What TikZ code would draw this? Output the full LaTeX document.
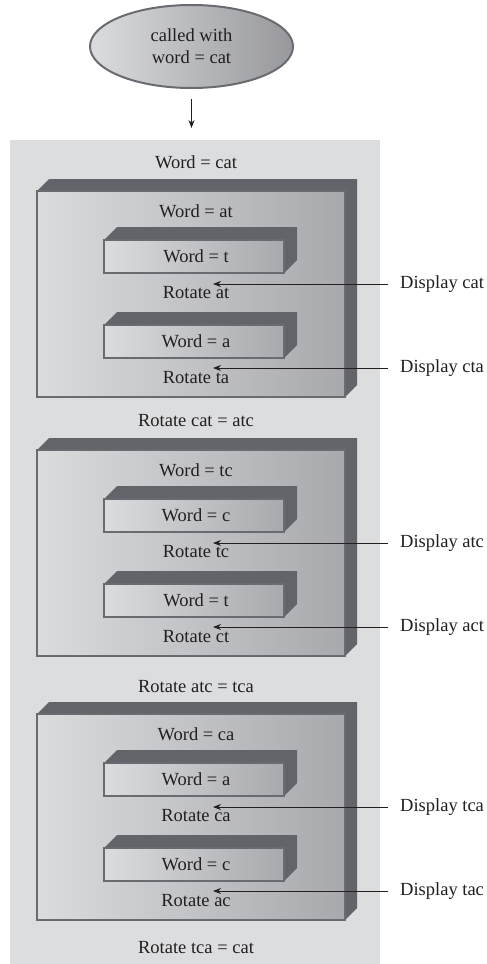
\documentclass[tikz,border=0pt]{standalone}
\usepackage{fontspec}
\setmainfont{Liberation Serif}
\usetikzlibrary{arrows.meta,shapes.geometric}
\definecolor{panelgray}{HTML}{DCDDDF}
\definecolor{bevel}{HTML}{636469}
\definecolor{faceL}{HTML}{DBDCDE}
\definecolor{faceR}{HTML}{A8A9AD}
\definecolor{edge}{HTML}{6A6B70}
\definecolor{ink}{HTML}{231F20}
\tikzset{
  txt/.style={font=\fontsize{18.5}{22}\selectfont, text=ink, inner sep=0pt},
  facebox/.style={draw=edge, line width=2.5pt, left color=faceL, right color=faceR,
                  anchor=north west, inner sep=0pt, outer sep=0pt},
  disp/.style={txt, anchor=west, inner xsep=12pt},
  conn/.style={draw=ink, line width=0.9pt, -{Stealth[length=8pt,width=6pt]}},
}
% #1 name, #2 x1, #3 y1, #4 x2, #5 y2, #6 depth
\newcommand\extbox[6]{%
  \fill[bevel] (#2,#3) -- ++(#6,-#6) -- ++({(#4)-(#2)},0) -- ++(0,{(#5)-(#3)}) -- (#4,#5) -- cycle;
  \node[facebox, minimum width={((#4)-(#2))*1pt}, minimum height={((#5)-(#3))*1pt}] (#1) at (#2,#3) {};
}
% #1 k, #2 T, #3 word, #4 inner1, #5 rot1, #6 inner2, #7 rot2, #8 disp1, #9 disp2
\newcommand\boxgroup[9]{%
  \extbox{box#1}{37}{#2}{345}{#2+206}{12}
  \node[txt] (w#1) at (196,#2+20) {#3};
  \extbox{in#1a}{104}{#2+49}{284}{#2+82}{13}
  \node[txt] (iw#1a) at (196,#2+65) {#4};
  \node[txt] (r#1a) at (196,#2+102) {#5};
  \extbox{in#1b}{104}{#2+134}{284}{#2+167}{13}
  \node[txt] (iw#1b) at (196,#2+150) {#6};
  \node[txt] (r#1b) at (196,#2+187) {#7};
  \coordinate (t#1a) at (213,#2+93);
  \coordinate (t#1b) at (213,#2+177);
  \node[disp] (d#1a) at (388,#2+93) {#8};
  \node[disp] (d#1b) at (388,#2+177) {#9};
  \draw[conn] (d#1a) -- (t#1a);
  \draw[conn] (d#1b) -- (t#1b);
}
\begin{document}
\begin{tikzpicture}[x=1pt,y=-1pt]
\useasboundingbox (0,0) rectangle (487,964);
\node[ellipse, draw=edge, line width=2pt, left color=faceL, right color=faceR!90!black,
      minimum width=203pt, minimum height=83pt, inner sep=0pt, align=center,
      font=\fontsize{18.5}{22}\selectfont, text=ink] (call) at (191.5,46.5) {called with\\word = cat};
\node[fill=panelgray, minimum width=370pt, minimum height=824pt, anchor=north west,
      inner sep=0pt, outer sep=0pt] (panel) at (10,140) {};
\draw[conn] ([yshift=-10pt]call.south) -- ([yshift=12pt]call.south |- panel.north);
\node[txt] (top) at (196,162) {Word = cat};
\boxgroup{1}{191}{Word = at}{Word = t}{Rotate at}{Word = a}{Rotate ta}{Display cat}{Display cta}
\node[txt] (m1) at (196,421) {Rotate cat = atc};
\boxgroup{2}{450}{Word = tc}{Word = c}{Rotate tc}{Word = t}{Rotate ct}{Display atc}{Display act}
\node[txt] (m2) at (196,687) {Rotate atc = tca};
\boxgroup{3}{714}{Word = ca}{Word = a}{Rotate ca}{Word = c}{Rotate ac}{Display tca}{Display tac}
\node[txt] (m3) at (196,948) {Rotate tca = cat};
\end{tikzpicture}
\end{document}
